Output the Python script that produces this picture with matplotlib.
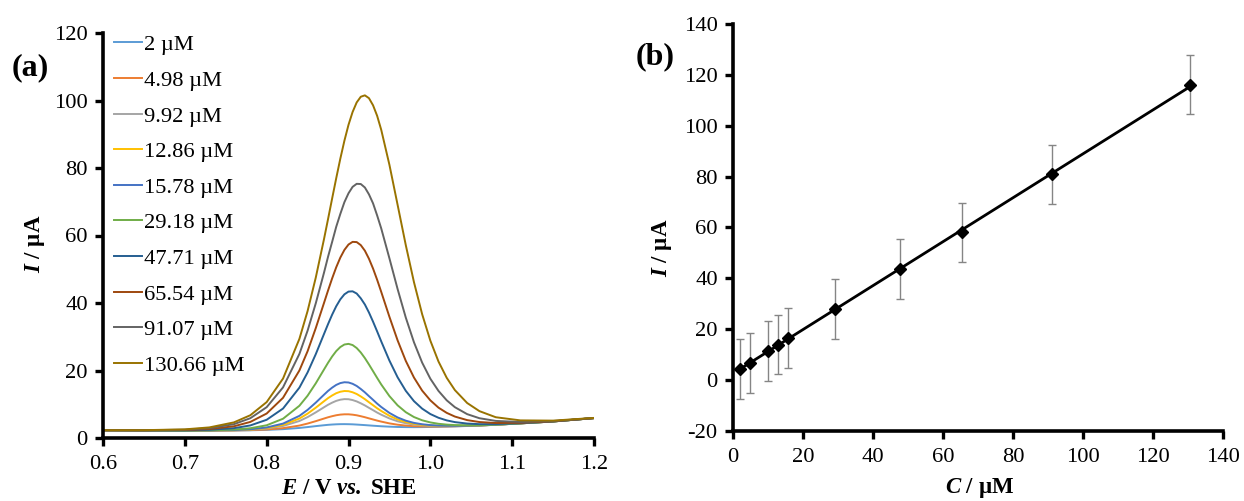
import numpy as np
import matplotlib
matplotlib.use("Agg")
import matplotlib.pyplot as plt

plt.rcParams['font.family'] = ['Liberation Serif', 'DejaVu Serif']
plt.rcParams['mathtext.fontset'] = 'custom'
plt.rcParams['mathtext.rm'] = 'Liberation Serif'
plt.rcParams['mathtext.it'] = 'Liberation Serif:italic'
plt.rcParams['mathtext.bf'] = 'Liberation Serif:bold'
plt.rcParams['mathtext.bfit'] = 'Liberation Serif:italic:bold'
plt.rcParams['axes.unicode_minus'] = False

# ---------------- Panel (a) data: DPV curves ----------------
E = [0.60, 0.65, 0.70, 0.73, 0.76, 0.78, 0.80, 0.82, 0.84, 0.85, 0.86, 0.87, 0.875,
     0.88, 0.885, 0.89, 0.895, 0.90, 0.905, 0.91, 0.915, 0.92, 0.925, 0.93, 0.935,
     0.94, 0.95, 0.96, 0.97, 0.98, 0.99, 1.00, 1.01, 1.02, 1.03, 1.045, 1.06, 1.08,
     1.11, 1.15, 1.20]

labels_a = ["2 µM", "4.98 µM", "9.92 µM", "12.86 µM", "15.78 µM", "29.18 µM",
            "47.71 µM", "65.54 µM", "91.07 µM", "130.66 µM"]

I_2 = [2.30, 2.25, 2.20, 2.20, 2.23, 2.29, 2.41, 2.62, 2.98, 3.24, 3.52, 3.78, 3.90,
       3.99, 4.06, 4.10, 4.11, 4.09, 4.05, 3.98, 3.90, 3.82, 3.73, 3.64, 3.56,
       3.48, 3.36, 3.27, 3.23, 3.21, 3.23, 3.27, 3.32, 3.38, 3.44, 3.56, 3.69, 3.92,
       4.33, 4.90, 5.90]
I_4_98 = [2.30, 2.25, 2.20, 2.21, 2.25, 2.34, 2.52, 2.92, 3.68, 4.28, 4.99, 5.76, 6.14,
          6.46, 6.74, 6.93, 7.02, 7.02, 6.91, 6.73, 6.46, 6.16, 5.82, 5.49, 5.16,
          4.86, 4.33, 3.94, 3.68, 3.50, 3.42, 3.40, 3.40, 3.43, 3.48, 3.58, 3.70, 3.93,
          4.33, 4.90, 5.90]
I_9_92 = [2.30, 2.25, 2.21, 2.23, 2.30, 2.46, 2.80, 3.56, 5.04, 6.19, 7.59, 9.10, 9.84,
          10.47, 11.00, 11.35, 11.52, 11.49, 11.24, 10.84, 10.28, 9.65, 8.94, 8.25, 7.54,
          6.91, 5.80, 4.96, 4.37, 3.96, 3.73, 3.60, 3.53, 3.52, 3.53, 3.61, 3.71, 3.93,
          4.33, 4.90, 5.90]
I_12_86 = [2.30, 2.25, 2.21, 2.24, 2.33, 2.52, 2.95, 3.90, 5.77, 7.22, 8.98, 10.88, 11.81,
           12.60, 13.27, 13.71, 13.92, 13.87, 13.55, 13.04, 12.32, 11.51, 10.60, 9.71, 8.81,
           8.01, 6.58, 5.50, 4.73, 4.21, 3.89, 3.71, 3.60, 3.57, 3.56, 3.62, 3.72, 3.94,
           4.33, 4.90, 5.90]
I_15_78 = [2.30, 2.25, 2.21, 2.24, 2.36, 2.59, 3.12, 4.27, 6.56, 8.33, 10.48, 12.81, 13.95,
           14.92, 15.73, 16.27, 16.52, 16.45, 16.06, 15.42, 14.53, 13.53, 12.40, 11.31, 10.19,
           9.19, 7.43, 6.09, 5.13, 4.48, 4.07, 3.82, 3.68, 3.62, 3.60, 3.64, 3.73, 3.94,
           4.34, 4.90, 5.90]
I_29_18 = [2.30, 2.25, 2.22, 2.28, 2.50, 2.89, 3.77, 5.71, 9.55, 12.53, 16.20, 20.27, 22.29,
           24.15, 25.75, 26.95, 27.70, 27.89, 27.54, 26.66, 25.34, 23.68, 21.79, 19.80, 17.80,
           15.86, 12.42, 9.68, 7.65, 6.21, 5.25, 4.62, 4.21, 3.97, 3.83, 3.77, 3.80, 3.97,
           4.34, 4.90, 5.90]
I_47_71 = [2.30, 2.26, 2.27, 2.43, 2.91, 3.72, 5.40, 8.73, 14.92, 19.43, 24.84, 30.78, 33.74,
           36.54, 39.04, 41.08, 42.57, 43.38, 43.46, 42.81, 41.39, 39.56, 37.18, 34.47, 31.58,
           28.62, 22.94, 17.99, 13.98, 10.92, 8.70, 7.10, 5.99, 5.22, 4.71, 4.28, 4.10, 4.12,
           4.39, 4.91, 5.90]
I_65_54 = [2.30, 2.28, 2.36, 2.66, 3.47, 4.76, 7.25, 11.91, 20.01, 25.71, 32.56, 39.97, 43.70,
           47.28, 50.59, 53.45, 55.73, 57.33, 58.11, 58.05, 57.15, 55.50, 53.11, 50.20, 46.88,
           43.29, 35.91, 28.93, 22.85, 17.91, 14.04, 11.16, 8.99, 7.45, 6.35, 5.30, 4.73, 4.44,
           4.51, 4.94, 5.90]
I_91_07 = [2.31, 2.30, 2.46, 2.91, 4.10, 5.86, 9.13, 15.00, 24.91, 31.80, 39.91, 48.92, 53.70,
           58.10, 62.59, 66.39, 69.88, 72.51, 74.41, 75.31, 75.25, 74.23, 72.19, 69.52, 65.94,
           62.09, 53.24, 44.14, 35.68, 28.36, 22.33, 17.57, 13.94, 11.17, 9.13, 7.07, 5.86, 5.06,
           4.75, 5.02, 5.92]
I_130_66 = [2.31, 2.32, 2.56, 3.14, 4.63, 6.74, 10.64, 17.61, 29.37, 37.61, 47.52, 58.86, 64.86,
            70.96, 76.98, 82.76, 88.09, 92.79, 96.59, 99.43, 101.11, 101.53, 100.69, 98.58, 95.46,
            91.31, 80.95, 69.09, 57.15, 46.17, 36.68, 28.86, 22.64, 17.84, 14.19, 10.37, 7.96, 6.15,
            5.22, 5.15, 5.95]

curves_a = [I_2, I_4_98, I_9_92, I_12_86, I_15_78, I_29_18, I_47_71, I_65_54, I_91_07, I_130_66]
colors_a = ["#5B9BD5", "#ED7D31", "#A5A5A5", "#FFC000", "#4472C4", "#70AD47",
            "#255E91", "#9E480E", "#636363", "#997300"]

xticks_a = [0.6, 0.7, 0.8, 0.9, 1.0, 1.1, 1.2]
yticks_a = [0, 20, 40, 60, 80, 100, 120]

# ---------------- Panel (b) data: calibration ----------------
C = [2, 4.98, 9.92, 12.86, 15.78, 29.18, 47.71, 65.54, 91.07, 130.66]
I_peak = [4.3, 6.7, 11.6, 14.0, 16.6, 27.9, 43.6, 58.1, 80.9, 116.2]
I_err = [11.7, 11.7, 11.8, 11.6, 11.8, 11.8, 11.8, 11.7, 11.7, 11.6]

xticks_b = [0, 20, 40, 60, 80, 100, 120, 140]
yticks_b = [-20, 0, 20, 40, 60, 80, 100, 120, 140]

W, H = 1244, 501
fig = plt.figure(figsize=(W / 100, H / 100), dpi=100)

def px_axes(x0, x1, ytop, ybot):
    return fig.add_axes([x0 / W, (H - ybot) / H, (x1 - x0) / W, (ybot - ytop) / H])

FS = 16.2
LFS = 16.5

def style(ax):
    for s in ['top', 'right']:
        ax.spines[s].set_visible(False)
    for s in ['left', 'bottom']:
        ax.spines[s].set_linewidth(2.6)
        ax.spines[s].set_color('black')
    ax.tick_params(axis='both', which='major', direction='out', length=6, width=2.4,
                   labelsize=FS, colors='black')
    ax.tick_params(axis='x', pad=6)
    ax.tick_params(axis='y', pad=5)

# Panel (a)
AX0, AX1, AY0, AY1 = 103, 594, 33, 438
axa = px_axes(AX0, AX1, AY0, AY1)
for y, c, lab in zip(curves_a, colors_a, labels_a):
    axa.plot(E, y, color=c, lw=1.4, label=lab)
axa.set_xlim(0.6, 1.2)
axa.set_ylim(0, 120)
axa.set_xticks(xticks_a)
axa.set_xticklabels([f"{v:.1f}" for v in xticks_a])
axa.set_yticks(yticks_a)
style(axa)
axa.set_xlabel(r"$\mathbfit{E}$ / V $\mathbfit{vs.}$ SHE", fontsize=LFS, fontweight='bold', va='center')
axa.xaxis.set_label_coords((349 - AX0) / (AX1 - AX0), (AY1 - 488) / (AY1 - AY0))
axa.set_ylabel(r"$\mathbfit{I}$ / µA", fontsize=LFS, fontweight='bold', va='center')
axa.yaxis.set_label_coords((35 - AX0) / (AX1 - AX0), (AY1 - 244) / (AY1 - AY0))
leg = axa.legend(loc='upper left', bbox_to_anchor=(0.022, 0.996), frameon=False, fontsize=FS,
                 handlelength=1.25, handletextpad=0.08, labelspacing=0.66,
                 borderaxespad=0.0, borderpad=0.0)
fig.text(12 / W, 1 - 68 / H, "(a)", fontsize=23, fontweight='bold', va='center', ha='left')

# Panel (b)
BX0, BX1, BY0, BY1 = 733, 1223, 24, 431
axb = px_axes(BX0, BX1, BY0, BY1)
slope, intercept = np.polyfit(C, I_peak, 1)
xl = np.array([min(C), max(C)])
axb.errorbar(C, I_peak, yerr=I_err, fmt='none', ecolor='#858585', elinewidth=1.0,
             capsize=2.6, capthick=1.0, zorder=2)
axb.plot(xl, slope * xl + intercept, color='black', lw=2.0, zorder=3)
axb.plot(C, I_peak, linestyle='none', marker='D', markersize=6.5, color='black', zorder=4)
axb.set_xlim(0, 140)
axb.set_ylim(-20, 140)
axb.set_xticks(xticks_b)
axb.set_yticks(yticks_b)
style(axb)
axb.set_xlabel(r"$\mathbfit{C}$ / µM", fontsize=LFS, fontweight='bold', va='center')
axb.xaxis.set_label_coords((980 - BX0) / (BX1 - BX0), (BY1 - 488) / (BY1 - BY0))
axb.set_ylabel(r"$\mathbfit{I}$ / µA", fontsize=LFS, fontweight='bold', va='center')
axb.yaxis.set_label_coords((662 - BX0) / (BX1 - BX0), (BY1 - 248) / (BY1 - BY0))
fig.text(636 / W, 1 - 57 / H, "(b)", fontsize=23, fontweight='bold', va='center', ha='left')

fig.savefig("out.png", dpi=100)
